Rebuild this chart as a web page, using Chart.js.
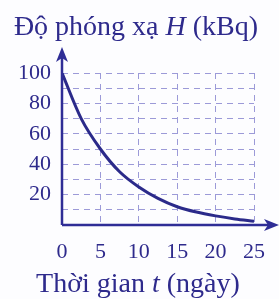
<!DOCTYPE html>
<html>
<head>
<meta charset="utf-8">
<script src="https://cdn.jsdelivr.net/npm/chart.js@4.4.0/dist/chart.umd.min.js"></script>
<style>
  html, body { margin: 0; padding: 0; background: #fdfdff; }
  canvas { display: block; }
</style>
</head>
<body>
<canvas id="grafico" width="279" height="299"></canvas>
<script>
// dados
const tempos = [0, 2.5, 5, 7.5, 10, 12.5, 15, 17.5, 20, 22.5, 25];
const atividade = [100, 70, 50, 35, 25, 17.5, 12, 8.5, 6, 4, 2.5];
const ticksX = [0, 5, 10, 15, 20, 25];
const gradeY = [0, 10, 20, 30, 40, 50, 60, 70, 80, 90, 100];
const ticksY = [20, 40, 60, 80, 100];

const corTexto = '#2e2a8c';
const corEixo = '#2f2d96';
const corGrade = '#9c9ad8';
const fonte = '"Liberation Serif", "Times New Roman", serif';

// desenha texto com partes em itálico
function textoMisto(ctx, partes, cx, base, tam) {
  let total = 0;
  partes.forEach(p => {
    ctx.font = (p.it ? 'italic ' : '') + tam + 'px ' + fonte;
    p.w = ctx.measureText(p.t).width;
    total += p.w;
  });
  let x = cx - total / 2;
  partes.forEach(p => {
    ctx.font = (p.it ? 'italic ' : '') + tam + 'px ' + fonte;
    ctx.fillText(p.t, x, base);
    x += p.w;
  });
}

const eixosSetas = {
  id: 'eixosSetas',
  afterDraw(chart) {
    const { ctx } = chart;
    const xs = chart.scales.x;
    const ys = chart.scales.y;
    const x0 = xs.getPixelForValue(0);
    const y0 = ys.getPixelForValue(0);

    ctx.save();
    ctx.strokeStyle = corEixo;
    ctx.fillStyle = corEixo;
    ctx.lineWidth = 2.5;

    // eixo y
    ctx.beginPath();
    ctx.moveTo(x0, y0);
    ctx.lineTo(x0, 58);
    ctx.stroke();
    ctx.beginPath();
    ctx.moveTo(x0, 47);
    ctx.lineTo(x0 - 6, 62);
    ctx.lineTo(x0, 58);
    ctx.lineTo(x0 + 6, 62);
    ctx.closePath();
    ctx.fill();

    // eixo x
    ctx.beginPath();
    ctx.moveTo(x0, y0);
    ctx.lineTo(268, y0);
    ctx.stroke();
    ctx.beginPath();
    ctx.moveTo(279, y0);
    ctx.lineTo(264, y0 - 6);
    ctx.lineTo(268, y0);
    ctx.lineTo(264, y0 + 6);
    ctx.closePath();
    ctx.fill();

    // títulos
    ctx.fillStyle = corTexto;
    ctx.textBaseline = 'alphabetic';
    ctx.textAlign = 'left';
    textoMisto(ctx, [{ t: 'Độ phóng xạ ' }, { t: 'H', it: true }, { t: ' (kBq)' }], 136, 35, 28);
    textoMisto(ctx, [{ t: 'Thời gian ' }, { t: 't', it: true }, { t: ' (ngày)' }], 138, 292, 28);
    ctx.restore();
  }
};

new Chart(document.getElementById('grafico'), {
  type: 'line',
  data: {
    datasets: [{
      data: tempos.map((t, i) => ({ x: t, y: atividade[i] })),
      borderColor: '#2b2a8a',
      borderWidth: 3,
      pointRadius: 0,
      cubicInterpolationMode: 'monotone',
      fill: false
    }]
  },
  options: {
    responsive: false,
    devicePixelRatio: 1,
    animation: false,
    layout: { padding: { top: 73, right: 21, bottom: 0, left: 0 } },
    plugins: {
      legend: { display: false },
      tooltip: { enabled: false }
    },
    scales: {
      x: {
        type: 'linear',
        min: 0,
        max: 25,
        afterFit: s => { s.height = 74; },
        afterBuildTicks: s => { s.ticks = ticksX.map(v => ({ value: v })); },
        grid: { color: corGrade, lineWidth: 1, drawTicks: false },
        border: { display: false, dash: [6, 5] },
        ticks: {
          autoSkip: false,
          padding: 14,
          color: corTexto,
          font: { family: fonte, size: 22 }
        }
      },
      y: {
        min: 0,
        max: 100,
        afterFit: s => { s.width = 62; },
        afterBuildTicks: s => { s.ticks = gradeY.map(v => ({ value: v })); },
        grid: { color: corGrade, lineWidth: 1, drawTicks: false },
        border: { display: false, dash: [6, 5] },
        ticks: {
          autoSkip: false,
          padding: 11,
          color: corTexto,
          font: { family: fonte, size: 22 },
          callback: v => ticksY.includes(v) ? String(v) : ''
        }
      }
    }
  },
  plugins: [eixosSetas]
});
</script>
</body>
</html>
